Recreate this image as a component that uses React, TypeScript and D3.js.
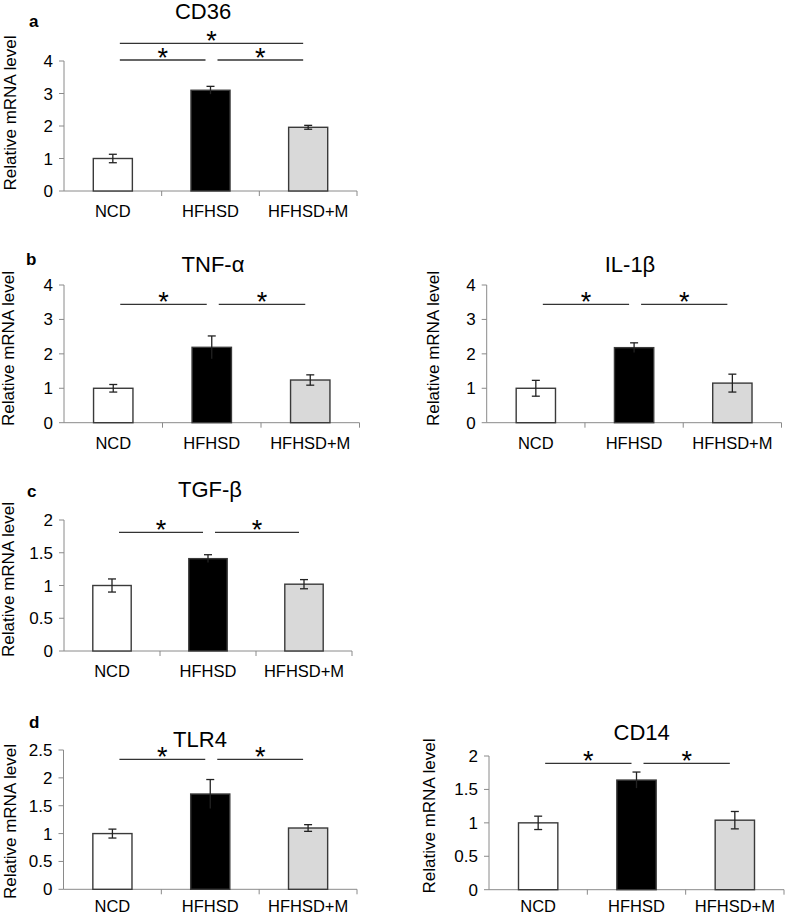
import React from "react";
import * as d3 from "d3";

const categories = ["NCD", "HFHSD", "HFHSD+M"];
const barFills = ["#ffffff", "#000000", "#d9d9d9"];

const cd36Values = [1.0, 3.1, 1.96];
const cd36Errors = [0.13, 0.12, 0.06];
const tnfValues = [1.0, 2.19, 1.24];
const tnfErrors = [0.11, 0.33, 0.15];
const il1bValues = [1.0, 2.18, 1.15];
const il1bErrors = [0.23, 0.14, 0.26];
const tgfValues = [1.0, 1.41, 1.02];
const tgfErrors = [0.1, 0.06, 0.07];
const tlr4Values = [1.0, 1.71, 1.1];
const tlr4Errors = [0.08, 0.26, 0.06];
const cd14Values = [1.0, 1.64, 1.04];
const cd14Errors = [0.1, 0.12, 0.13];

const ticks4 = [0, 1, 2, 3, 4];
const ticks2 = [0, 0.5, 1, 1.5, 2];
const ticks25 = [0, 0.5, 1, 1.5, 2, 2.5];

const pairsTwo: [number, number][] = [[0, 1], [1, 2]];
const pairsThree: [number, number][] = [[0, 1], [1, 2], [0, 2]];

const FONT = "'Liberation Sans', Arial, Helvetica, sans-serif";

type PanelProps = {
  title: string;
  letter?: string;
  values: number[];
  errors: number[];
  ticks: number[];
  pairs: [number, number][];
  x0: number;
  x1: number;
  y0: number;
  y1: number;
  titleX: number;
  titleY: number;
  letterX?: number;
  letterY?: number;
  labelX: number;
  labelCY: number;
  bracketY: number;
  bracketY2?: number;
  catY?: number;
};

function Panel(p: PanelProps) {
  const yMax = p.ticks[p.ticks.length - 1];
  const x = d3.scaleBand<string>().domain(categories).range([p.x0, p.x1]).paddingInner(0.6).paddingOuter(0.3);
  const xb = d3.scaleBand<string>().domain(categories).range([p.x0, p.x1]);
  const y = d3.scaleLinear().domain([0, yMax]).range([p.y0, p.y1]);
  const cx = (i: number) => (xb(categories[i]) as number) + xb.bandwidth() / 2;
  const axisColor = "#8a8a8a";
  const catY = p.catY ?? p.y0 + 26;
  return (
    <g>
      {p.letter && (
        <text x={p.letterX} y={p.letterY} fontFamily={FONT} fontWeight="bold" fontSize={17} fill="#000">
          {p.letter}
        </text>
      )}
      <text x={p.titleX} y={p.titleY} textAnchor="middle" fontFamily={FONT} fontSize={22} fill="#000">
        {p.title}
      </text>
      <text
        transform={`translate(${p.labelX},${p.labelCY}) rotate(-90)`}
        textAnchor="middle"
        fontFamily={FONT}
        fontSize={17}
        fill="#000"
      >
        Relative mRNA level
      </text>
      {/* y axis */}
      <line x1={p.x0} x2={p.x0} y1={p.y0} y2={p.y1} stroke={axisColor} strokeWidth={1} />
      {p.ticks.map((t) => (
        <g key={t}>
          <line x1={p.x0 - 5} x2={p.x0} y1={y(t)} y2={y(t)} stroke={axisColor} strokeWidth={1} />
          <text x={p.x0 - 11} y={y(t) + 6} textAnchor="end" fontFamily={FONT} fontSize={17} fill="#000">
            {String(t)}
          </text>
        </g>
      ))}
      {/* x axis */}
      <line x1={p.x0} x2={p.x1} y1={p.y0} y2={p.y0} stroke={axisColor} strokeWidth={1} />
      {categories.map((c, i) => (
        <g key={c}>
          <line
            x1={(xb(c) as number) + xb.bandwidth()}
            x2={(xb(c) as number) + xb.bandwidth()}
            y1={p.y0}
            y2={p.y0 + 5}
            stroke={axisColor}
            strokeWidth={1}
          />
          <text x={cx(i)} y={catY} textAnchor="middle" fontFamily={FONT} fontSize={16.5} fill="#000">
            {c}
          </text>
        </g>
      ))}
      {/* bars */}
      {p.values.map((v, i) => (
        <rect
          key={i}
          x={x(categories[i]) as number}
          y={y(v)}
          width={x.bandwidth()}
          height={p.y0 - y(v)}
          fill={barFills[i]}
          stroke="#3a3a3a"
          strokeWidth={1.4}
        />
      ))}
      {/* error bars */}
      {p.values.map((v, i) => {
        const c = cx(i);
        const top = y(v + p.errors[i]);
        const bot = y(v - p.errors[i]);
        return (
          <g key={"e" + i} stroke="#222" strokeWidth={1.3}>
            <line x1={c} x2={c} y1={top} y2={bot} />
            <line x1={c - 4} x2={c + 4} y1={top} y2={top} />
            {i !== 1 && <line x1={c - 4} x2={c + 4} y1={bot} y2={bot} />}
          </g>
        );
      })}
      {/* significance */}
      {p.pairs.map(([a, b], k) => {
        const ly = b - a === 2 ? (p.bracketY2 as number) : p.bracketY;
        const xa = cx(a) + 7;
        const xe = cx(b) - 5;
        return (
          <g key={"s" + k}>
            <line x1={xa} x2={xe} y1={ly} y2={ly} stroke="#333" strokeWidth={1.3} />
            <text x={(xa + xe) / 2} y={ly + 7} textAnchor="middle" fontFamily={FONT} fontSize={27} fill="#000">
              *
            </text>
          </g>
        );
      })}
    </g>
  );
}

export default function App() {
  return (
    <svg width={787} height={916} style={{ position: "absolute", left: 0, top: 0, background: "#fff" }}>
      <rect x={0} y={0} width={787} height={916} fill="#fff" />
      <Panel
        title="CD36" letter="a" values={cd36Values} errors={cd36Errors} ticks={ticks4} pairs={pairsThree}
        x0={64} x1={357} y0={191} y1={61} titleX={203} titleY={18.5} letterX={29} letterY={27}
        labelX={15.5} labelCY={113} bracketY={60} bracketY2={43.3}
      />
      <Panel
        title="TNF-α" letter="b" values={tnfValues} errors={tnfErrors} ticks={ticks4} pairs={pairsTwo}
        x0={64} x1={359.5} y0={422.7} y1={285} titleX={213} titleY={271.7} letterX={26} letterY={265}
        labelX={13.5} labelCY={348.5} bracketY={304.3}
      />
      <Panel
        title="IL-1β" values={il1bValues} errors={il1bErrors} ticks={ticks4} pairs={pairsTwo}
        x0={486.7} x1={781.5} y0={422.7} y1={285} titleX={630} titleY={271.5}
        labelX={439} labelCY={348.5} bracketY={304.3}
      />
      <Panel
        title="TGF-β" letter="c" values={tgfValues} errors={tgfErrors} ticks={ticks2} pairs={pairsTwo}
        x0={64} x1={352} y0={651} y1={520} titleX={210} titleY={497} letterX={27} letterY={497}
        labelX={13.5} labelCY={579.5} bracketY={532.3}
      />
      <Panel
        title="TLR4" letter="d" values={tlr4Values} errors={tlr4Errors} ticks={ticks25} pairs={pairsTwo}
        x0={63.5} x1={357} y0={889.3} y1={750} titleX={200} titleY={746.7} letterX={29} letterY={728}
        labelX={16} labelCY={821.5} bracketY={759.3} catY={912}
      />
      <Panel
        title="CD14" values={cd14Values} errors={cd14Errors} ticks={ticks2} pairs={pairsTwo}
        x0={489} x1={784} y0={889.7} y1={756} titleX={641.7} titleY={740}
        labelX={435} labelCY={816} bracketY={763.3} catY={912}
      />
    </svg>
  );
}
